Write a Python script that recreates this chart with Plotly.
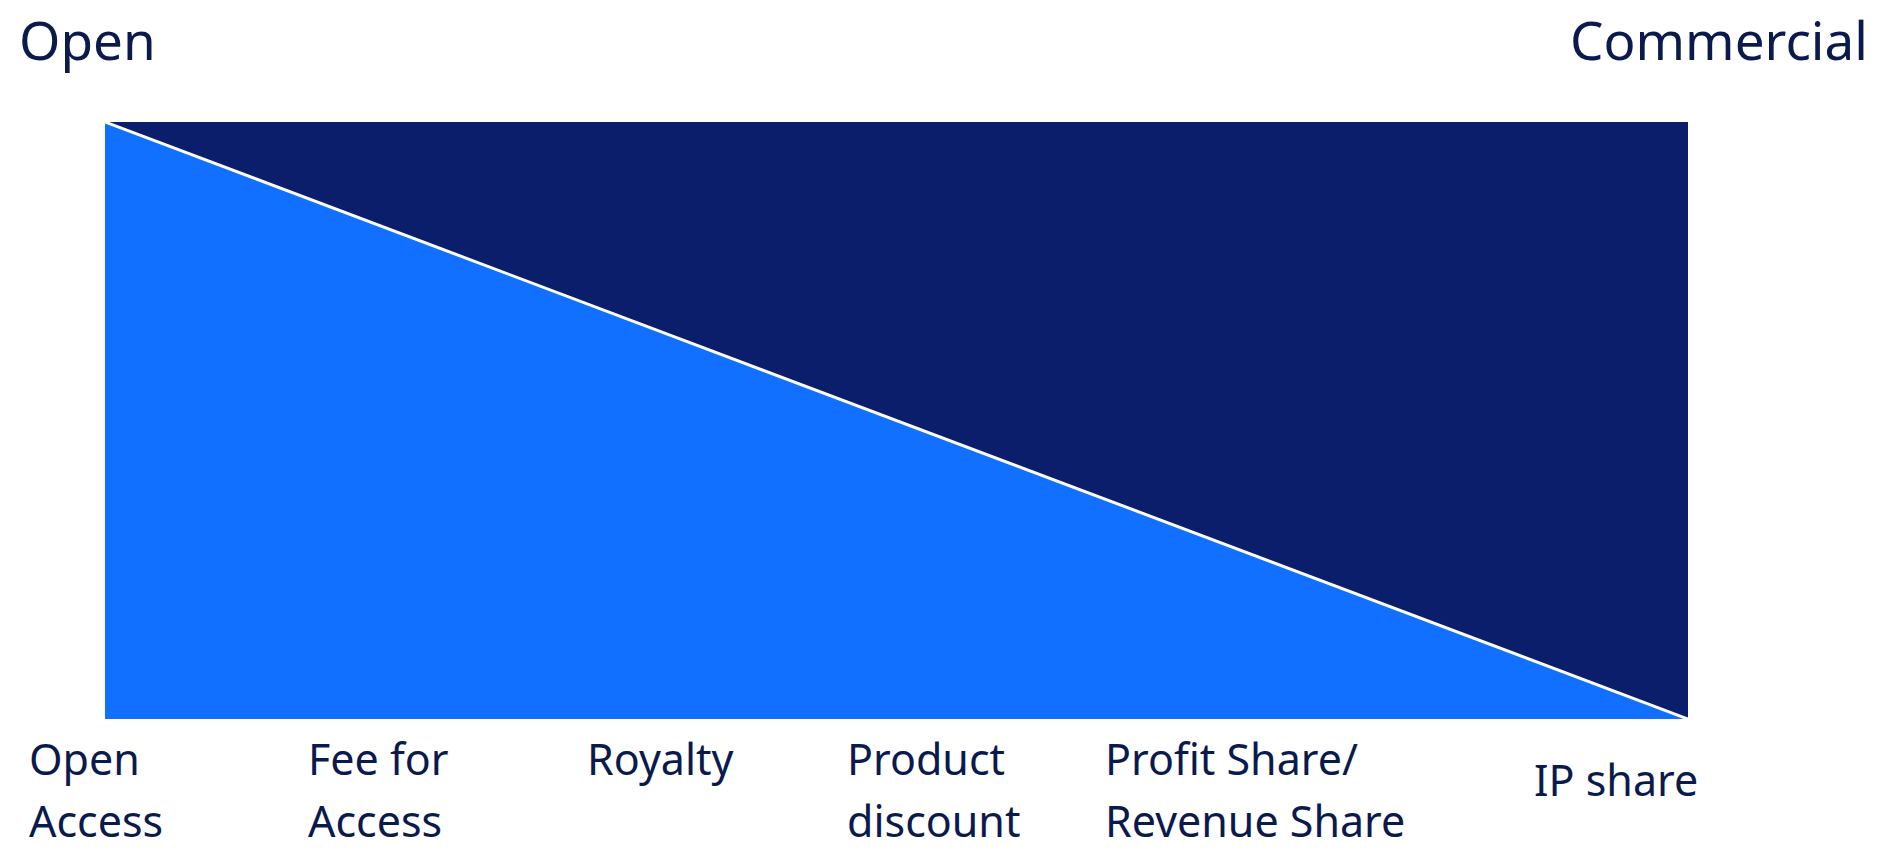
import plotly.graph_objects as go

# ---- data ----
categories = ["Open<br>Access", "Fee for<br>Access", "Royalty", "Product<br>discount",
              "Profit Share/<br>Revenue Share", "IP share"]
spectrum_x = [0, 1]          # position along the open -> commercial spectrum
open_share = [1, 0]          # share of the "open" component
total_share = [1, 1]
end_labels = ["Open", "Commercial"]

# ---- layout constants (pixels) ----
W, H = 1878, 849
PL, PR, PT, PB = 105, 1688, 122, 719
label_left_px = [27, 306, 585, 845, 1103, 1532]
single_line_mid = [None, None, 758, None, None, 779]
line1_mid, line2_mid = 758, 820
TEXT = "#0B1A4C"
LIGHT = "#1170FF"
DARK = "#0A1E6B"
FONT = "Noto Sans"

def px_x(px):
    return (px - PL) / (PR - PL)

def px_y(py):
    return (PB - py) / (PB - PT)

fig = go.Figure()
fig.add_trace(go.Scatter(x=spectrum_x, y=open_share, mode="lines", line=dict(width=0),
                         fill="tozeroy", fillcolor=LIGHT, hoverinfo="skip", showlegend=False))
fig.add_trace(go.Scatter(x=spectrum_x, y=total_share, mode="lines", line=dict(width=0),
                         fill="tonexty", fillcolor=DARK, hoverinfo="skip", showlegend=False))
fig.add_trace(go.Scatter(x=spectrum_x, y=open_share, mode="lines",
                         line=dict(color="white", width=3), hoverinfo="skip", showlegend=False))

annotations = []
for cat, lx, smid in zip(categories, label_left_px, single_line_mid):
    lines = cat.split("<br>")
    mids = [smid] if len(lines) == 1 else [line1_mid, line2_mid]
    for ln, my in zip(lines, mids):
        annotations.append(dict(text=ln, xref="paper", yref="paper", x=px_x(lx), y=px_y(my),
                                xanchor="left", yanchor="middle", showarrow=False,
                                font=dict(family=FONT, size=43, color=TEXT)))

annotations.append(dict(text=end_labels[0], xref="paper", yref="paper", x=px_x(17), y=px_y(39),
                        xanchor="left", yanchor="middle", showarrow=False,
                        font=dict(family=FONT, size=53, color=TEXT)))
annotations.append(dict(text=end_labels[1], xref="paper", yref="paper", x=px_x(1870), y=px_y(39),
                        xanchor="right", yanchor="middle", showarrow=False,
                        font=dict(family=FONT, size=53, color=TEXT)))

fig.update_layout(
    width=W, height=H,
    margin=dict(l=PL, r=W - PR, t=PT, b=H - PB, pad=0),
    paper_bgcolor="white", plot_bgcolor="white",
    xaxis=dict(range=[0, 1], visible=False, fixedrange=True),
    yaxis=dict(range=[0, 1], visible=False, fixedrange=True),
    annotations=annotations,
)

fig.write_html("out.html", config={"displayModeBar": False})
